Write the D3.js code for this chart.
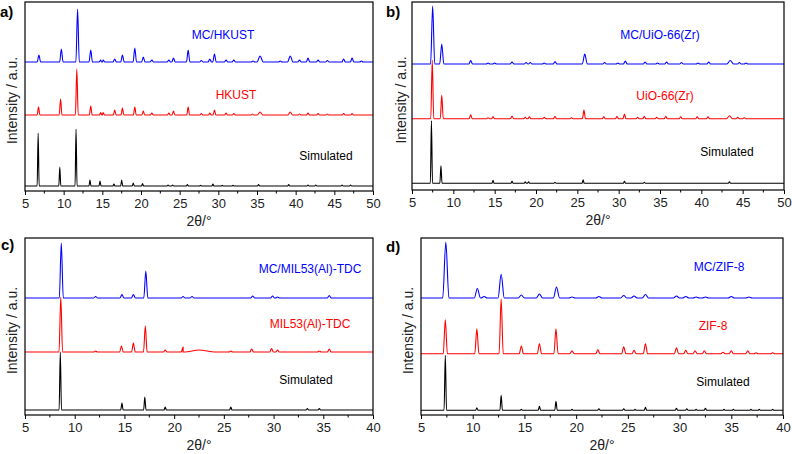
<!DOCTYPE html>
<html><head><meta charset="utf-8">
<script src="https://cdn.jsdelivr.net/npm/d3@7"></script>
<style>body{margin:0;background:#fff}svg{display:block;font-family:Arial,"Liberation Sans",sans-serif}</style>
</head><body><svg id="c" width="792" height="454"></svg>
<script>
// ---------- data: peaks as [2theta, intensity(a.u.), optional half-width] ----------
const xTicksA = [5,10,15,20,25,30,35,40,45,50];
const xTicksC = [5,10,15,20,25,30,35,40];

const hkustSim = [[6.7,53],[9.5,19],[11.6,57],[13.4,6],[14.7,5],[16.5,2],[17.5,6],[19.0,3],[20.2,2.5],[23.5,1],[24.1,1],[26.0,1.5],[27.7,0.8],[29.3,2],[30.5,0.8],[31.9,0.8],[35.2,1.5],[39.1,1.5],[41.6,1],[42.6,1],[46.0,1],[47.1,1]];
const hkustExp = [[6.75,8],[9.6,16],[11.7,46],[13.5,9],[14.8,2.5],[15.1,2.5],[16.6,5],[17.6,7],[19.2,8],[20.3,4],[21.4,2],[23.6,2],[24.2,4],[26.1,8],[27.8,1.5],[28.9,2],[29.5,5],[31.0,2],[32.0,1.5],[34.4,1],[35.4,3,0.35],[39.3,3,0.3],[40.5,1],[41.6,2],[42.9,1.5],[44.1,1],[46.2,1.5],[47.3,1.5]];
const hkustMC  = [[6.8,7],[9.7,13],[11.8,53],[13.5,12],[14.8,2],[15.1,2],[16.6,3],[17.6,7],[19.2,14],[20.3,5],[21.4,2],[23.6,2],[24.2,4],[26.1,12],[27.8,1.5],[28.9,3],[29.5,8],[31.0,2],[32.0,2],[34.5,1],[35.4,6,0.4],[38.0,1],[39.3,6,0.35],[40.5,2],[41.6,4],[42.9,2],[44.1,1.5],[46.2,3],[47.3,4],[48.5,1]];

const uioSim = [[7.35,62.6],[8.5,17.6],[14.8,3],[17.1,2],[18.7,1.5],[19.1,1.5],[22.3,1],[25.7,3.5],[30.7,2],[33.1,1],[43.4,1.5]];
const uioExp = [[7.45,58.7],[8.6,23.7],[12.1,4],[14.2,1],[14.8,2],[17.1,2.7],[18.7,1.5],[19.2,2],[21.0,1.5],[22.3,2.5],[24.3,1],[25.8,8.7],[28.2,2],[29.8,2.5],[30.7,4.7],[32.3,1.5],[33.1,2.5],[34.6,1.5],[35.7,2.5],[37.5,2],[39.5,2],[40.8,2],[43.4,3,0.35],[44.4,1.5],[45.2,1]];
const uioMC  = [[7.5,58,0.25],[8.6,20,0.25],[12.1,3.5],[14.2,1],[15.0,1],[17.1,2],[18.8,1.5],[19.3,1.5],[21.0,1],[22.3,2.5],[25.9,10,0.3],[28.3,1.5],[29.9,1],[30.8,3],[33.2,2],[34.7,1],[35.8,2],[37.6,1.5],[39.6,1],[40.9,2],[43.5,3.5,0.4],[44.6,1.5],[45.4,1]];

const milSim = [[8.55,58],[14.75,7],[17.05,13],[19.1,3],[25.7,3],[33.4,1.5],[34.6,1.5]];
const milExp = [[8.6,55],[12.1,1],[14.7,6],[15.9,9],[17.1,26],[19.1,2],[20.9,5],[22.5,2,1.6],[25.7,1],[27.8,3],[29.8,3.5],[30.4,2],[34.6,1],[35.6,3]];
const milMC  = [[8.65,55],[12.1,1.5],[14.75,3.5],[15.9,3.5],[17.15,27],[20.9,1.5],[21.8,1.5],[27.9,2],[29.9,2],[30.4,1],[35.6,2.5]];

const zifSim = [[7.35,55],[10.4,2.5],[12.75,15],[14.7,1],[16.45,4],[18.05,9],[19.6,1],[22.2,1.5],[24.6,1.5],[25.7,1],[26.7,3],[29.7,2],[30.7,1.5],[31.6,1],[32.5,2],[34.3,1],[35.2,1],[36.9,1],[37.7,1],[39.0,1]];
const zifExp = [[7.35,34],[10.4,25],[12.75,55],[14.7,7.7],[16.45,10],[18.05,25],[19.6,3],[22.1,4],[24.6,7],[25.6,3.5],[26.7,10],[29.7,6],[30.6,3.5],[31.5,3],[32.4,3],[34.2,1.5],[35.0,3],[36.6,3],[37.4,1],[39.0,1]];
const zifMC  = [[7.4,56],[10.45,9.5],[11.1,1.5],[12.75,23.7],[14.7,3],[16.45,4],[18.1,11],[19.6,1],[22.2,1.5],[24.6,2.5],[25.6,2],[26.7,3.5],[29.7,2],[30.6,1.5],[31.6,1],[32.5,1],[35.0,1.5],[36.7,1]];

const labels = {
  a:["MC/HKUST","HKUST","Simulated"],
  b:["MC/UiO-66(Zr)","UiO-66(Zr)","Simulated"],
  c:["MC/MIL53(Al)-TDC","MIL53(Al)-TDC","Simulated"],
  d:["MC/ZIF-8","ZIF-8","Simulated"]
};
const colors = ["#0000ff","#ff0000","#000000"];

// ---------- layout ----------
const panels = [
  {id:"a", x0:25,  x1:373, y0:2,   y1:191, dom:[5,50], ticks:xTicksA, series:[hkustMC,hkustExp,hkustSim], offs:[129,76,5], w:[0.22,0.18,0.13],
   lab:[[223,39],[236,99],[326,160]], ylx:12},
  {id:"b", x0:412, x1:784, y0:2,   y1:190, dom:[5,50], ticks:xTicksA, series:[uioMC,uioExp,uioSim], offs:[126,71.3,6.7], w:[0.22,0.18,0.13],
   lab:[[660,39],[665,100],[727,156]], ylx:401},
  {id:"c", x0:25,  x1:373, y0:238, y1:415, dom:[5,40], ticks:xTicksC, series:[milMC,milExp,milSim], offs:[117,63,5], w:[0.2,0.18,0.12],
   lab:[[310,273],[310,328],[306,384]], ylx:12},
  {id:"d", x0:421, x1:783, y0:238, y1:415, dom:[5,40], ticks:xTicksC, series:[zifMC,zifExp,zifSim], offs:[117,61.3,4.7], w:[0.3,0.2,0.12],
   lab:[[719,271],[713,330],[723,386]], ylx:408}
];
const panelLab = {a:[0,17],b:[386,17],c:[1,250],d:[386,252]};

const svg = d3.select("#c");

function toPoints(peaks, off, w, dom){
  const pts = [[dom[0], off]];
  peaks.forEach(p=>{
    const hw = p[2] || w;
    pts.push([p[0]-hw, off],[p[0], off+p[1]],[p[0]+hw, off]);
  });
  pts.push([dom[1], off]);
  pts.sort((a,b)=>a[0]-b[0]);
  return pts;
}

panels.forEach(P=>{
  const x = d3.scaleLinear().domain(P.dom).range([P.x0,P.x1]);
  const y = d3.scaleLinear().domain([0, P.y1-P.y0]).range([P.y1,P.y0]);
  const g = svg.append("g");
  const clipId = "clip"+P.id;
  svg.append("clipPath").attr("id",clipId).append("rect")
     .attr("x",P.x0).attr("y",P.y0).attr("width",P.x1-P.x0).attr("height",P.y1-P.y0);
  const line = d3.line().x(d=>x(d[0])).y(d=>y(d[1])).curve(d3.curveMonotoneX);
  P.series.forEach((s,i)=>{
    g.append("path").attr("clip-path",`url(#${clipId})`)
      .attr("d", line(toPoints(s,P.offs[i],P.w[i],P.dom)))
      .attr("fill","none").attr("stroke",colors[i]).attr("stroke-width",1.1);
    g.append("text").attr("x",P.lab[i][0]).attr("y",P.lab[i][1])
      .attr("text-anchor","middle").attr("font-size",12).attr("fill",colors[i])
      .text(labels[P.id][i]);
  });
  g.append("rect").attr("x",P.x0).attr("y",P.y0).attr("width",P.x1-P.x0).attr("height",P.y1-P.y0)
    .attr("fill","none").attr("stroke","#000").attr("stroke-width",1.2);
  const ax = g.append("g").attr("transform",`translate(0,${P.y1})`)
    .call(d3.axisBottom(x).tickValues(P.ticks).tickSize(4).tickPadding(4).tickFormat(d3.format("d")));
  ax.select(".domain").remove();
  ax.selectAll("text").attr("font-size",13).attr("font-family","Arial,'Liberation Sans',sans-serif").attr("fill","#222");
  ax.selectAll("line").attr("stroke","#000");
  const minor = d3.range(P.dom[0]+2.5, P.dom[1], 5);
  g.selectAll(null).data(minor).join("line")
    .attr("x1",d=>x(d)).attr("x2",d=>x(d)).attr("y1",P.y1).attr("y2",P.y1+2.5).attr("stroke","#000");
  g.append("text").attr("x",(P.x0+P.x1)/2).attr("y",P.y1+35).attr("text-anchor","middle")
    .attr("font-size",14).attr("fill","#222").text("2θ/°");
  g.append("text").attr("transform",`translate(${P.ylx+5},${(P.y0+P.y1)/2+4}) rotate(-90)`)
    .attr("text-anchor","middle").attr("font-size",14).attr("fill","#222").text("Intensity / a.u.");
  g.append("text").attr("x",panelLab[P.id][0]).attr("y",panelLab[P.id][1])
    .attr("font-size",15).attr("font-weight","bold").text(P.id+")");
});
</script></body></html>
